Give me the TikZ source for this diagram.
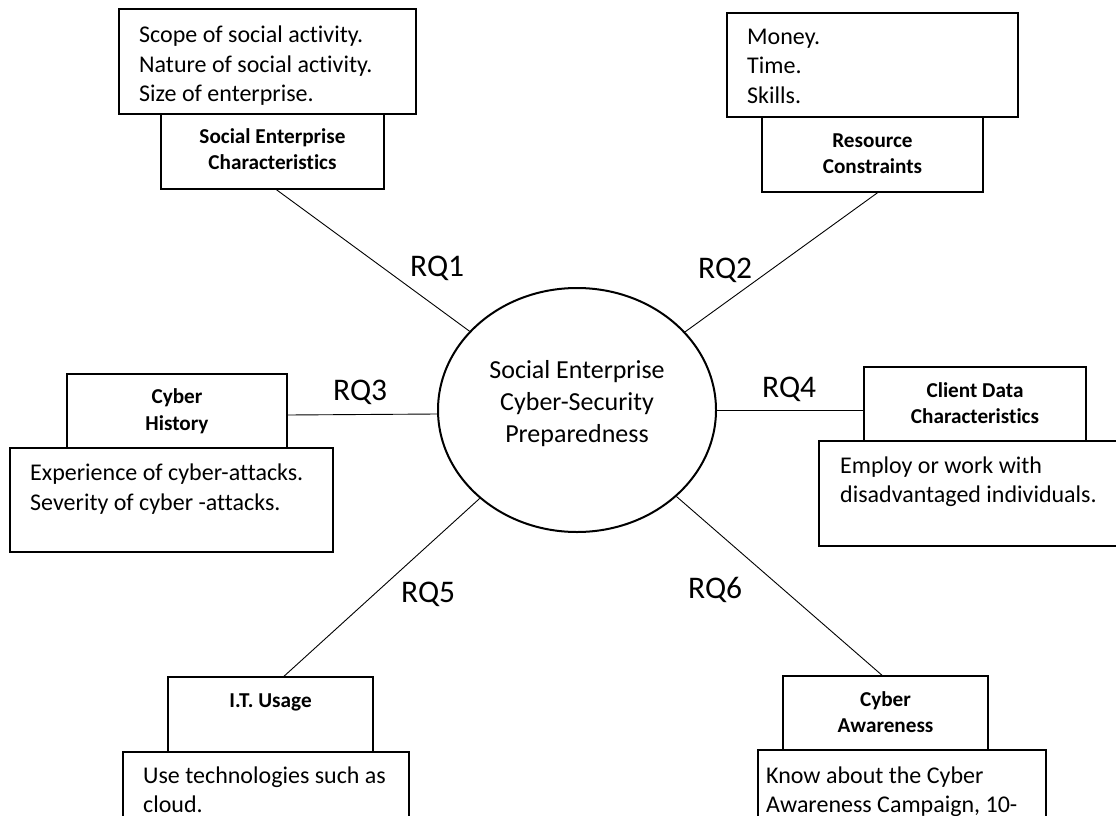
\documentclass[tikz,border=0pt]{standalone}
\usepackage{fontspec}
\setmainfont{Carlito}[Ligatures={NoCommon}]
\usetikzlibrary{shapes.geometric}
\begin{document}
\begin{tikzpicture}[x=1pt,y=-1pt,
  boxstyle/.style={draw=black, line width=1.5pt, fill=white, rectangle, inner sep=0pt},
  dtext/.style={anchor=base west, inner sep=0pt, font=\fontsize{24}{29}\selectfont},
  ttext/.style={anchor=base, inner sep=0pt, font=\fontsize{21.2}{26}\selectfont\bfseries},
  ctext/.style={anchor=base, inner sep=0pt, font=\fontsize{26}{32}\selectfont},
  rqtext/.style={anchor=base west, inner sep=0pt, font=\fontsize{31.5}{36}\selectfont},
  link/.style={draw=black, line width=0.9pt}]
\useasboundingbox (0,0) rectangle (1116,816);

% central ellipse
\node[draw=black, line width=2pt, ellipse, minimum width=278pt, minimum height=244pt, inner sep=0pt] (core) at (577,410) {};
\node[ctext] (c1) at (577,378) {Social Enterprise};
\node[ctext] (c2) at (577,410) {Cyber-Security};
\node[ctext] (c3) at (577,442) {Preparedness};

% 1 Social Enterprise Characteristics
\node[boxstyle, minimum width=297pt, minimum height=105pt] (d1) at (267.5,61.5) {};
\node[boxstyle, minimum width=223pt, minimum height=75pt] (t1) at (272.5,151.5) {};
\node[dtext] (d1a) at (139,43) {Scope of social activity.};
\node[dtext] (d1b) at (139,72) {Nature of social activity.};
\node[dtext] (d1c) at (139,101) {Size of enterprise.};
\node[ttext] (t1a) at (272.5,143) {Social Enterprise};
\node[ttext] (t1b) at (272.5,169) {Characteristics};

% 2 Resource Constraints
\node[boxstyle, minimum width=291pt, minimum height=104pt] (d2) at (872.5,65) {};
\node[boxstyle, minimum width=221pt, minimum height=75pt] (t2) at (872.5,154.5) {};
\node[dtext] (d2a) at (747,45) {Money.};
\node[dtext] (d2b) at (747,74) {Time.};
\node[dtext] (d2c) at (747,103) {Skills.};
\node[ttext] (t2a) at (872.5,147) {Resource};
\node[ttext] (t2b) at (872.5,173) {Constraints};

% 3 Cyber History
\node[boxstyle, minimum width=323pt, minimum height=104pt] (d3) at (171.5,500) {};
\node[boxstyle, minimum width=220pt, minimum height=74pt] (t3) at (177,411) {};
\node[ttext] (t3a) at (177,403) {Cyber};
\node[ttext] (t3b) at (177,430) {History};
\node[dtext] (d3a) at (30,480) {Experience of cyber-attacks.};
\node[dtext] (d3b) at (30,510) {Severity of cyber -attacks.};

% 4 Client Data Characteristics
\node[boxstyle, minimum width=306pt, minimum height=105pt] (d4) at (972,493.5) {};
\node[boxstyle, minimum width=222pt, minimum height=74pt] (t4) at (975,404) {};
\node[ttext] (t4a) at (975,397) {Client Data};
\node[ttext] (t4b) at (975,423) {Characteristics};
\node[dtext] (d4a) at (840,473) {Employ or work with};
\node[dtext] (d4b) at (840,502) {disadvantaged individuals.};

% 5 I.T. Usage
\node[boxstyle, minimum width=286pt, minimum height=80pt] (d5) at (266,792) {};
\node[boxstyle, minimum width=205pt, minimum height=75pt] (t5) at (270.5,714.5) {};
\node[ttext] (t5a) at (270.5,707) {I.T. Usage};
\node[dtext] (d5a) at (143,783) {Use technologies such as};
\node[dtext] (d5b) at (143,812) {cloud.};

% 6 Cyber Awareness
\node[boxstyle, minimum width=288pt, minimum height=80pt] (d6) at (902,790) {};
\node[boxstyle, minimum width=205pt, minimum height=74pt] (t6) at (885.5,713) {};
\node[ttext] (t6a) at (885.5,706) {Cyber};
\node[ttext] (t6b) at (885.5,732) {Awareness};
\node[dtext] (d6a) at (766,783) {Know about the Cyber};
\node[dtext] (d6b) at (766,812) {Awareness Campaign, 10-};

% connectors
\draw[link] (core) -- ([xshift=4pt]t1.south);
\draw[link] (core) -- ([xshift=5pt]t2.south);
\draw[link] ([yshift=-4pt]t3.east) -- ([yshift=-4pt]core.west);
\draw[link] (core.east) -- (t4.west |- core.east);
\draw[link] (core) -- ([xshift=13.5pt]t5.north);
\draw[link] (core) -- ([xshift=-3.5pt]t6.north);

% labels
\node[rqtext] (rq1) at (410,276) {RQ1};
\node[rqtext] (rq2) at (698,278) {RQ2};
\node[rqtext] (rq3) at (333,400) {RQ3};
\node[rqtext] (rq4) at (762,397) {RQ4};
\node[rqtext] (rq5) at (401,602) {RQ5};
\node[rqtext] (rq6) at (688,598) {RQ6};
\end{tikzpicture}
\end{document}
